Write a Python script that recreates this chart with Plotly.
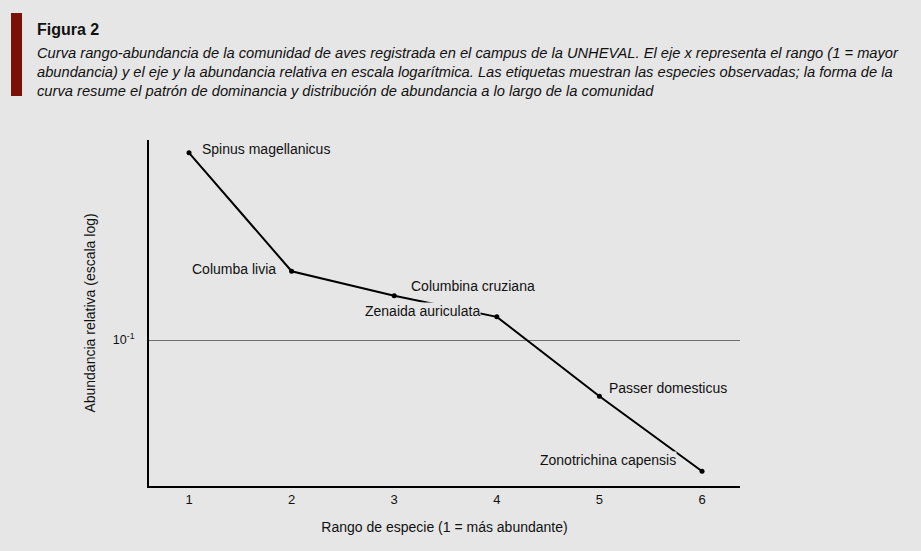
import math
import plotly.graph_objects as go

ranks = [1, 2, 3, 4, 5, 6]
species = ["Spinus magellanicus", "Columba livia", "Columbina cruziana",
           "Zenaida auriculata", "Passer domesticus", "Zonotrichina capensis"]
rel_abund = [0.466, 0.176, 0.144, 0.121, 0.063, 0.034]
ytick_vals = [0.1]
ytick_text = ["10<sup>-1</sup>"]

BG = "#e6e6e6"
L, R, T, B = 149, 740, 140, 486
PW, PH = R - L, B - T


def px(xp):
    return (xp - L) / PW


def py(yp):
    return (B - yp) / PH


fig = go.Figure()
fig.add_trace(go.Scatter(
    x=ranks, y=rel_abund, mode="lines+markers",
    line=dict(color="black", width=2),
    marker=dict(color="black", size=5),
    hoverinfo="skip", showlegend=False,
))

# label placement: (xanchor, xshift, yshift)
placements = [
    ("left", 12, 4),
    ("right", -15, 2),
    ("left", 16, 10),
    ("right", -16, 6),
    ("left", 9, 8),
    ("right", -25, 11),
]
for xv, yv, name, (xa, xs, ys) in zip(ranks, rel_abund, species, placements):
    fig.add_annotation(
        x=xv, y=math.log10(yv), xref="x", yref="y", text=name, showarrow=False,
        xanchor=xa, yanchor="middle", xshift=xs, yshift=ys,
        font=dict(family="Liberation Sans, Arial, sans-serif", size=14, color="#111"),
        bgcolor=BG, borderpad=0,
    )

# title block
fig.add_shape(type="rect", xref="paper", yref="paper",
              x0=px(11), x1=px(22), y0=py(96), y1=py(13),
              fillcolor="#7a1008", line=dict(width=0))
fig.add_annotation(
    xref="paper", yref="paper", x=px(35), y=py(19),
    xanchor="left", yanchor="top", showarrow=False, align="left",
    text="<b>Figura 2</b>",
    font=dict(family="Liberation Sans, Arial", size=16, color="#111"),
)
fig.add_annotation(
    xref="paper", yref="paper", x=px(35), y=py(43),
    xanchor="left", yanchor="top", showarrow=False, align="left",
    text=("<i>Curva rango-abundancia de la comunidad de aves registrada en el campus de la UNHEVAL. El eje x representa el rango (1 = mayor<br>"
          "abundancia) y el eje y la abundancia relativa en escala logarítmica. Las etiquetas muestran las especies observadas; la forma de la<br>"
          "curva resume el patrón de dominancia y distribución de abundancia a lo largo de la comunidad</i>"),
    font=dict(family="Liberation Sans, Arial", size=14.7, color="#111"),
)

fig.update_layout(
    width=921, height=551,
    paper_bgcolor=BG, plot_bgcolor=BG,
    margin=dict(l=L, r=921 - R, t=T, b=551 - B),
    font=dict(family="Liberation Sans, Arial, sans-serif", size=13, color="#111"),
    xaxis=dict(
        range=[0.61, 6.37], tickvals=ranks, ticktext=[str(r) for r in ranks],
        showgrid=False, zeroline=False, showline=True, linecolor="black", linewidth=2,
        ticks="", ticklen=0,
        tickfont=dict(size=13),
        title=dict(text="Rango de especie (1 = más abundante)", standoff=17,
                   font=dict(size=14)),
    ),
    yaxis=dict(
        type="log", range=[-1.521, -0.286],
        tickvals=ytick_vals, ticktext=ytick_text,
        showgrid=True, gridcolor="#6e6e6e", gridwidth=1,
        zeroline=False, showline=True, linecolor="black", linewidth=2,
        ticks="", tickfont=dict(size=12.5), ticklabelstandoff=10,
        title=dict(text="Abundancia relativa (escala log)", standoff=14,
                   font=dict(size=14)),
    ),
)

fig.write_html("out.html", config={"displayModeBar": False},
               post_script="document.body.style.margin='0';document.body.style.overflow='hidden';")
